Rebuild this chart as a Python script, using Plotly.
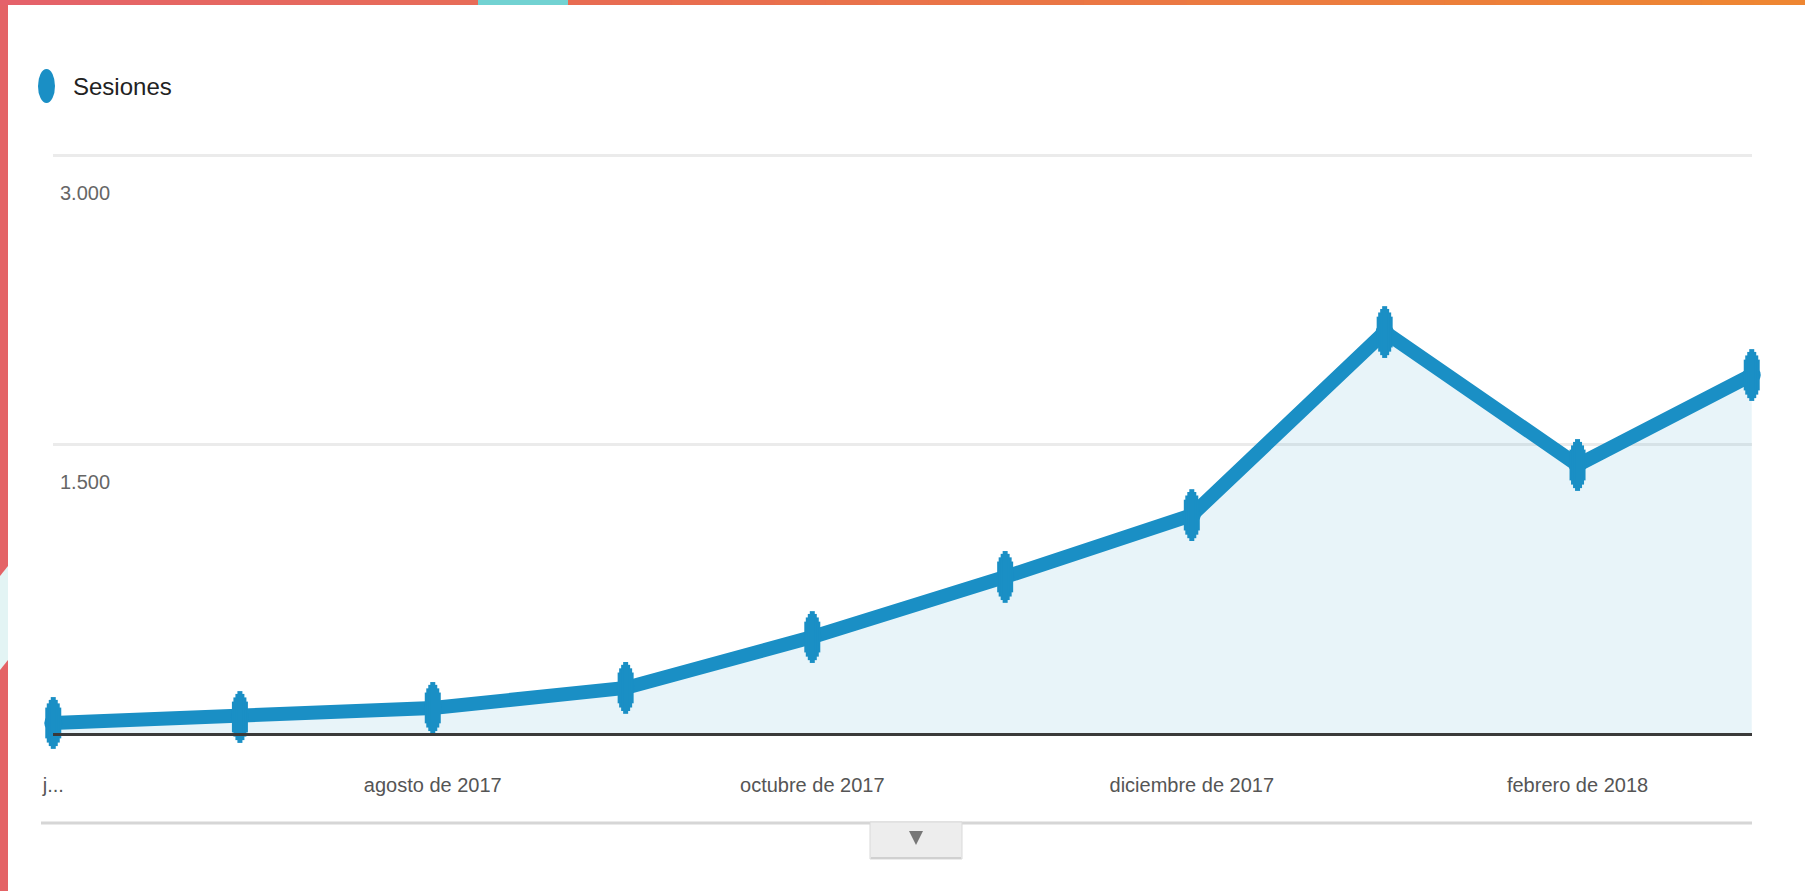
import plotly.graph_objects as go

# ---- data ----
meses = ["2017-06-01", "2017-07-01", "2017-08-01", "2017-09-01", "2017-10-01",
         "2017-11-01", "2017-12-01", "2018-01-01", "2018-02-01", "2018-03-01"]
sesiones = [52, 83, 130, 234, 498, 810, 1131, 2081, 1391, 1858]
tick_fechas = ["2017-06-01", "2017-08-01", "2017-10-01", "2017-12-01", "2018-02-01"]
tick_textos = ["j...", "agosto de 2017", "octubre de 2017", "diciembre de 2017", "febrero de 2018"]
y_ticks = [1500, 3000]
serie = "Sesiones"

W, H = 1805, 891
L, R, T, B = 53, 53, 140, 158
PW, PH = W - L - R, H - T - B
Y_TOP_PX = 155            # pixel row of the 3000 gridline
ymax = y_ticks[-1] * PH / (H - B - Y_TOP_PX)

def px(x):
    return (x - L) / PW

def py(y):
    return (H - B - y) / PH

BLUE = "#1A8FC5"
FONT = "Liberation Sans, Arial, Helvetica, sans-serif"

fig = go.Figure()
fig.add_trace(go.Scatter(
    x=meses, y=sesiones, mode="lines+markers", name=serie,
    line=dict(color=BLUE, width=14),
    marker=dict(color=BLUE, size=18, symbol="circle"),
    fill="tozeroy", fillcolor="rgba(26,143,197,0.10)",
    cliponaxis=False, showlegend=False,
))
# elongate markers vertically (reference is stretched)
for sz, lw in [(22, 16), (28, 13), (33, 9), (37, 5)]:
    fig.add_trace(go.Scatter(
        x=meses, y=sesiones, mode="markers",
        marker=dict(symbol="line-ns", size=sz, line=dict(color=BLUE, width=lw), color=BLUE),
        cliponaxis=False, showlegend=False, hoverinfo="skip",
    ))

shapes = []
# left decorative strip
shapes.append(dict(type="rect", xref="paper", yref="paper", x0=px(0), x1=px(8), y0=py(0), y1=py(H),
                   fillcolor="#E46366", line=dict(width=0), layer="above"))
shapes.append(dict(type="path", xref="paper", yref="paper",
                   path=f"M {px(0)},{py(576)} L {px(8)},{py(566)} L {px(8)},{py(660)} L {px(0)},{py(670)} Z",
                   fillcolor="#E3F4F4", line=dict(width=0), layer="above"))
# top decorative strip (gradient approximation)
def lerp(c0, c1, t):
    return "#%02x%02x%02x" % tuple(int(round(a + (b - a) * t)) for a, b in zip(c0, c1))

segs = 12
for i in range(segs):
    x0 = 478 * i / segs
    x1 = 478 * (i + 1) / segs + 1
    shapes.append(dict(type="rect", xref="paper", yref="paper", x0=px(x0), x1=px(x1), y0=py(5), y1=py(0),
                       fillcolor=lerp((229, 98, 106), (231, 108, 88), i / (segs - 1)),
                       line=dict(width=0), layer="above"))
shapes.append(dict(type="rect", xref="paper", yref="paper", x0=px(478), x1=px(568), y0=py(5), y1=py(0),
                   fillcolor="#72D2D2", line=dict(width=0), layer="above"))
for i in range(segs * 2):
    x0 = 568 + (W - 568) * i / (segs * 2)
    x1 = 568 + (W - 568) * (i + 1) / (segs * 2) + 1
    shapes.append(dict(type="rect", xref="paper", yref="paper", x0=px(x0), x1=px(x1), y0=py(5), y1=py(0),
                       fillcolor=lerp((232, 108, 82), (238, 134, 50), i / (segs * 2 - 1)),
                       line=dict(width=0), layer="above"))
# legend dot
shapes.append(dict(type="circle", xref="paper", yref="paper", x0=px(38), x1=px(55), y0=py(103), y1=py(69),
                   fillcolor=BLUE, line=dict(width=0)))
# bottom separator line
shapes.append(dict(type="line", xref="paper", yref="paper", x0=px(41), x1=px(1752), y0=py(823), y1=py(823),
                   line=dict(color="#D6D6D6", width=3)))
# expand button
shapes.append(dict(type="rect", xref="paper", yref="paper", x0=px(870), x1=px(962), y0=py(859), y1=py(822),
                   fillcolor="#EDEDED", line=dict(color="#D9D9D9", width=1)))
shapes.append(dict(type="line", xref="paper", yref="paper", x0=px(871), x1=px(961), y0=py(858), y1=py(858),
                   line=dict(color="#D0D0D0", width=2)))
shapes.append(dict(type="path", xref="paper", yref="paper",
                   path=f"M {px(909)},{py(831)} L {px(923)},{py(831)} L {px(916)},{py(845)} Z",
                   fillcolor="#777777", line=dict(width=0)))

annotations = [dict(text=serie, xref="paper", yref="paper", x=px(71), y=py(86), xanchor="left", yanchor="middle",
                    showarrow=False, font=dict(family=FONT, size=24, color="#222222"))]
# y-axis labels sit just below their gridlines, inside the plot
for v in y_ticks:
    annotations.append(dict(text=f"{v:,}".replace(",", "."), xref="paper", yref="y", x=px(58), y=v,
                            xanchor="left", yanchor="middle", yshift=-38, showarrow=False,
                            font=dict(family=FONT, size=20, color="#666666")))

fig.update_layout(
    width=W, height=H,
    margin=dict(l=L, r=R, t=T, b=B, pad=0),
    paper_bgcolor="white", plot_bgcolor="white",
    separators=",.",
    shapes=shapes, annotations=annotations,
    showlegend=False,
    xaxis=dict(
        type="date", range=["2017-05-31 23:00", "2018-03-01 01:00"],
        tickvals=tick_fechas, ticktext=tick_textos,
        tickfont=dict(family=FONT, size=20, color="#555555"),
        showgrid=False, zeroline=False,
        showline=True, linecolor="#3A3A3A", linewidth=3,
        ticks="", ticklabelstandoff=32,
    ),
    yaxis=dict(
        range=[0, ymax], tickvals=y_ticks, showticklabels=False,
        showgrid=True, gridcolor="#EBEBEB", gridwidth=3,
        zeroline=False, showline=False, ticks="",
    ),
)

fig.write_html("out.html", config={"displayModeBar": False},
               post_script="document.body.style.margin='0';document.body.style.overflow='hidden';")
